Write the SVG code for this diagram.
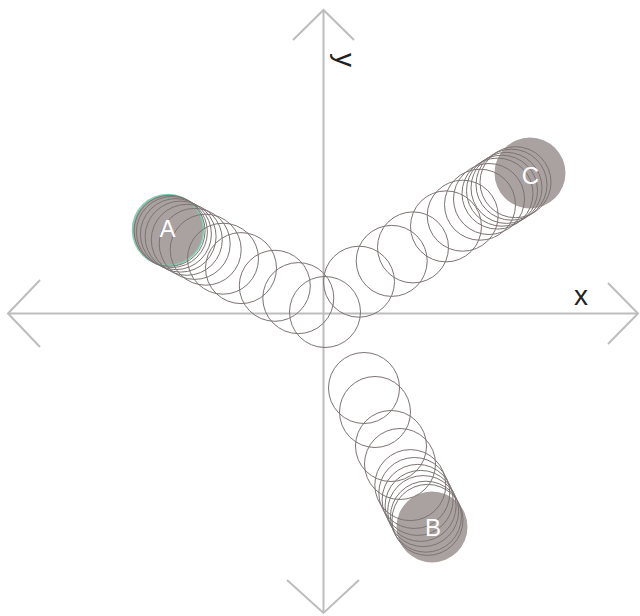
<svg xmlns="http://www.w3.org/2000/svg" width="640" height="616" viewBox="0 0 640 616">
<style>
.axis{stroke:#bdbdbd;stroke-width:2;fill:none}
.trail{fill:none;stroke:#7d7373;stroke-width:1}
.dot{fill:#aaa1a1}
.lbl{fill:#ffffff;font-family:"Liberation Sans",Arial,sans-serif;font-size:24px;text-anchor:middle}
.ax{fill:#222222;font-family:"Liberation Sans",Arial,sans-serif;font-size:28px}
</style>
<rect width="640" height="616" fill="#ffffff"/>
<g id="axes">
<line class="axis" x1="8" y1="313.5" x2="638" y2="313.5"/>
<line class="axis" x1="323.5" y1="10" x2="323.5" y2="613"/>
<polyline class="axis" points="293,40 323.5,10 354,40"/>
<polyline class="axis" points="40,280 8,313.5 40,347"/>
<polyline class="axis" points="608,283 638,313.5 608,344"/>
<polyline class="axis" points="287,580 323.5,613 359,580"/>
<text class="ax" x="574" y="305">x</text>
<text class="ax" transform="translate(336,53) rotate(90)">y</text>
</g>
<g id="node-A">
<circle class="dot" cx="168" cy="230" r="35.5" stroke="#7fd1b0" stroke-width="1.5"/>
</g>
<g id="node-B">
<circle class="dot" cx="432" cy="527" r="35.5"/>
</g>
<g id="node-C">
<circle class="dot" cx="530" cy="173" r="35.5"/>
</g>
<g id="connectors">
<circle class="trail" cx="325" cy="312" r="35.5"/>
<circle class="trail" cx="298.3" cy="298.1" r="35.5"/>
<circle class="trail" cx="274.8" cy="285.8" r="35.5"/>
<circle class="trail" cx="241" cy="268.1" r="35.5"/>
<circle class="trail" cx="223" cy="258.7" r="35.5"/>
<circle class="trail" cx="205.7" cy="249.7" r="35.5"/>
<circle class="trail" cx="194.7" cy="243.9" r="35.5"/>
<circle class="trail" cx="186.8" cy="239.8" r="35.5"/>
<circle class="trail" cx="180.6" cy="236.6" r="35.5"/>
<circle class="trail" cx="175.9" cy="234.1" r="35.5"/>
<circle class="trail" cx="171.9" cy="232" r="35.5"/>
<circle class="trail" cx="169.6" cy="230.8" r="35.5"/>
<circle class="trail" cx="359" cy="281.7" r="35.5"/>
<circle class="trail" cx="391.7" cy="260.9" r="35.5"/>
<circle class="trail" cx="413" cy="247.4" r="35.5"/>
<circle class="trail" cx="446" cy="226.4" r="35.5"/>
<circle class="trail" cx="462.7" cy="215.7" r="35.5"/>
<circle class="trail" cx="480" cy="204.7" r="35.5"/>
<circle class="trail" cx="489" cy="199" r="35.5"/>
<circle class="trail" cx="497.5" cy="193.6" r="35.5"/>
<circle class="trail" cx="502" cy="190.7" r="35.5"/>
<circle class="trail" cx="506.5" cy="187.9" r="35.5"/>
<circle class="trail" cx="511.5" cy="184.7" r="35.5"/>
<circle class="trail" cx="515.5" cy="182.2" r="35.5"/>
<circle class="trail" cx="364" cy="388" r="35.5"/>
<circle class="trail" cx="375" cy="412" r="35.5"/>
<circle class="trail" cx="391" cy="446" r="35.5"/>
<circle class="trail" cx="400" cy="464" r="35.5"/>
<circle class="trail" cx="410.3" cy="485.1" r="35.5"/>
<circle class="trail" cx="414.3" cy="493" r="35.5"/>
<circle class="trail" cx="417.6" cy="499.9" r="35.5"/>
<circle class="trail" cx="420.6" cy="505.9" r="35.5"/>
<circle class="trail" cx="423.2" cy="511.1" r="35.5"/>
<circle class="trail" cx="425.9" cy="516.7" r="35.5"/>
<circle class="trail" cx="427.5" cy="519.9" r="35.5"/>
</g>
<g id="labels">
<text class="lbl" x="167.5" y="237">A</text>
<text class="lbl" x="433" y="536">B</text>
<text class="lbl" x="530.5" y="184">C</text>
</g>
</svg>
